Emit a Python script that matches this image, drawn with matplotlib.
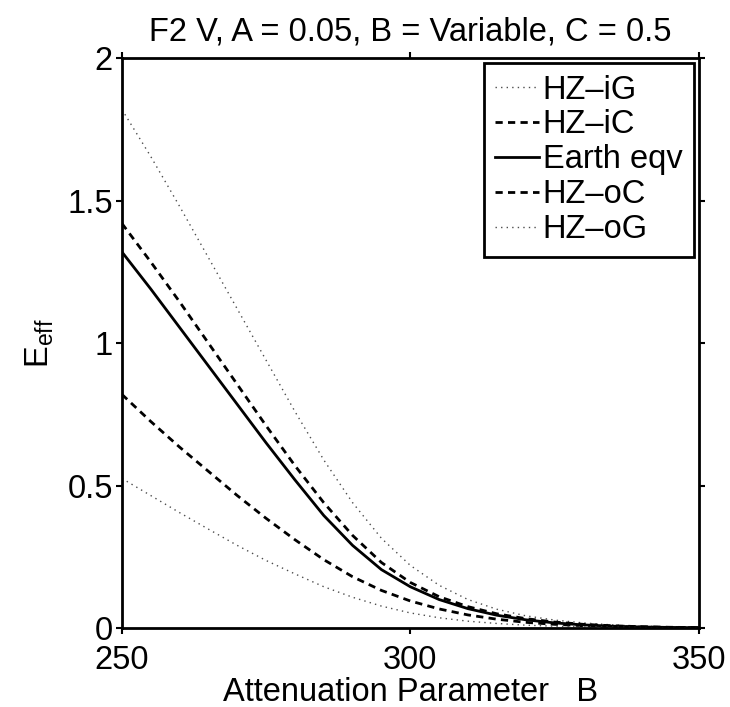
import matplotlib
matplotlib.use("Agg")
import matplotlib.pyplot as plt
from matplotlib.ticker import FuncFormatter

B = [250, 255, 260, 265, 270, 275, 280, 285, 290, 295, 300,
     305, 310, 315, 320, 325, 330, 335, 340, 345, 350]

hz_ig = [1.82, 1.655, 1.48, 1.30, 1.12, 0.94, 0.76, 0.59, 0.44, 0.315, 0.22,
         0.15, 0.10, 0.066, 0.043, 0.028, 0.018, 0.011, 0.0065, 0.0038, 0.0022]
hz_ic = [1.42, 1.285, 1.145, 1.0, 0.855, 0.71, 0.57, 0.44, 0.325, 0.23, 0.16,
         0.11, 0.075, 0.05, 0.033, 0.021, 0.013, 0.008, 0.0047, 0.0027, 0.0015]
earth = [1.32, 1.19, 1.055, 0.92, 0.785, 0.65, 0.52, 0.395, 0.29, 0.205, 0.145,
         0.10, 0.068, 0.045, 0.029, 0.018, 0.011, 0.0065, 0.0038, 0.0021, 0.0012]
hz_oc = [0.82, 0.725, 0.635, 0.55, 0.465, 0.385, 0.31, 0.24, 0.18, 0.132, 0.095,
         0.067, 0.046, 0.031, 0.02, 0.013, 0.008, 0.005, 0.003, 0.0017, 0.001]
hz_og = [0.525, 0.465, 0.405, 0.347, 0.29, 0.237, 0.19, 0.145, 0.108, 0.077, 0.053,
         0.036, 0.024, 0.016, 0.010, 0.0065, 0.004, 0.0025, 0.0015, 0.0009, 0.0005]

labels = ["HZ\u2013iG", "HZ\u2013iC", "Earth eqv", "HZ\u2013oC", "HZ\u2013oG"]
xticks = [250, 300, 350]
yticks = [0, 0.5, 1, 1.5, 2]

plt.rcParams['font.family'] = ['Liberation Sans', 'DejaVu Sans']
plt.rcParams['mathtext.default'] = 'regular'
FS = 23.5

fig = plt.figure(figsize=(7.30, 7.07), dpi=100)
ax = fig.add_axes([0.167, 0.1117, 0.790, 0.806])

dot = (0, (1, 3))
dash = (0, (2.6, 1.9))
ax.plot(B, hz_ig, color='0.3', lw=1.0, linestyle=dot, label=labels[0])
ax.plot(B, hz_ic, color='black', lw=2.0, linestyle=dash, label=labels[1])
ax.plot(B, earth, color='black', lw=2.0, linestyle='-', label=labels[2])
ax.plot(B, hz_oc, color='black', lw=2.0, linestyle=dash, label=labels[3])
ax.plot(B, hz_og, color='0.3', lw=1.0, linestyle=dot, label=labels[4])

ax.set_xlim(250, 350)
ax.set_ylim(0, 2)
ax.set_xticks(xticks)
ax.set_yticks(yticks)
fmt = FuncFormatter(lambda v, p: f"{v:g}")
ax.xaxis.set_major_formatter(fmt)
ax.yaxis.set_major_formatter(fmt)

for s in ax.spines.values():
    s.set_linewidth(2.0)
ax.tick_params(direction='out', length=4, width=1.5, labelsize=FS,
               top=True, right=True)
ax.tick_params(axis='x', pad=8)
ax.tick_params(axis='y', pad=2.5)

ax.set_title("F2 V, A = 0.05, B = Variable, C = 0.5", fontsize=FS, pad=13)
ax.set_xlabel("Attenuation Parameter   B", fontsize=FS, labelpad=1)
ax.set_ylabel("E$_{eff}$", fontsize=FS, labelpad=8)

leg = ax.legend(loc='upper right', fontsize=FS, frameon=True, fancybox=False,
                framealpha=1, edgecolor='black', handlelength=1.35,
                handletextpad=0.1, labelspacing=0.12, borderpad=0.35,
                borderaxespad=0.15)
leg.get_frame().set_linewidth(2.0)

fig.savefig("out.png", dpi=100)
